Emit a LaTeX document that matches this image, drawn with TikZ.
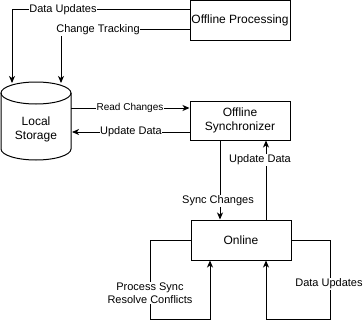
\documentclass[tikz,border=0pt]{standalone}
\usepackage{fontspec}
\setmainfont{Liberation Sans}
\usetikzlibrary{arrows.meta}
\begin{document}
\begin{tikzpicture}[x=1pt,y=-1pt,line width=1pt,
  box/.style={draw, minimum width=100pt, minimum height=40pt, inner sep=0pt,
    align=center, font=\fontsize{12}{14}\selectfont},
  lbl/.style={fill=white, inner sep=0.5pt, align=center, font=\fontsize{11}{13}\selectfont},
  arr/.style={-{Stealth[length=7pt,width=6pt,inset=2pt]}}]
\useasboundingbox (0,0) rectangle (364,329);
% nodes
\node[box] (op) at (240,20.5) {Offline Processing};
\node[box, minimum height=39pt] (sy) at (240,120.5) {Offline\\Synchronizer};
\node[box] (on) at (241,240) {Online};
% cylinder
\draw (36,93) ellipse [x radius=35pt, y radius=11pt];
\draw (1,93) -- (1,149) arc[start angle=180, end angle=360, x radius=35pt, y radius=11pt] -- (71,93);
\node[align=center, font=\fontsize{12}{14}\selectfont] (ls) at (36,129) {Local\\Storage};
% coordinates
\coordinate (du1) at (190,10);
\coordinate (du2) at (12,10);
\coordinate (du3) at (12,83);
\coordinate (ct1) at (190,30);
\coordinate (ct2) at (61,30);
\coordinate (ct3) at (61,83);
\coordinate (rc1) at (71,108);
\coordinate (ud1) at (72,132);
\coordinate (lp1) at (150,240);
\coordinate (lp2) at (150,319);
\coordinate (lp3) at (210,319);
\coordinate (rp1) at (330,240);
\coordinate (rp2) at (330,319);
\coordinate (rp3) at (266,319);
% connectors
\draw[arr] (op.west |- du1) -- (du2) -- (du3);
\draw[arr] (op.west |- ct1) -- (ct2) -- (ct3);
\draw[arr] (rc1) -- (sy.west |- rc1);
\draw[arr] (sy.west |- ud1) -- (ud1);
\draw[arr] (sy.south -| 220,0) -- (on.north -| 220,0);
\draw[arr] (on.north -| 266,0) -- (sy.south -| 266,0);
\draw[arr] (on.west |- lp1) -- (lp1) -- (lp2) -- (lp3) -- (on.south -| lp3);
\draw[arr] (on.east |- rp1) -- (rp1) -- (rp2) -- (rp3) -- (on.south -| rp3);
% labels
\node[lbl] (l1) at (63,10) {Data Updates};
\node[lbl] (l2) at (98,30) {Change Tracking};
\node[lbl, font=\fontsize{10}{12}\selectfont] (l3) at (130,108) {Read Changes};
\node[lbl] (l4) at (131,132) {Update Data};
\node[lbl] (l5) at (218,201) {Sync Changes};
\node[lbl] (l6) at (260,160) {Update Data};
\node[lbl, inner sep=1pt] (l7) at (150,293) {Process Sync\\Resolve Conflicts};
\node[lbl] (l8) at (329,284) {Data Updates};
\end{tikzpicture}
\end{document}
